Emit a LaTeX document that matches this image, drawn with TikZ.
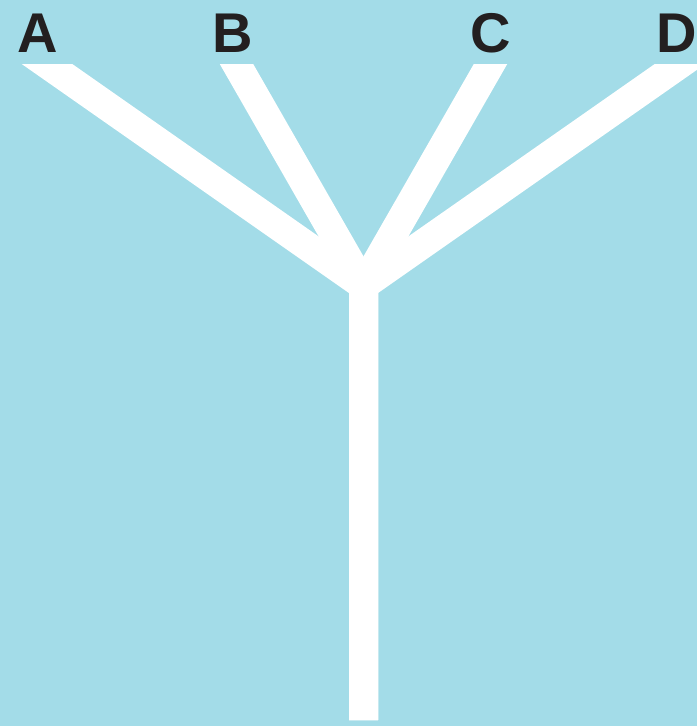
\documentclass[tikz,border=0pt]{standalone}
\usepackage{fontspec}
\setmainfont{Liberation Sans}
\definecolor{bgblue}{RGB}{163,220,232}
\definecolor{inkdark}{RGB}{35,31,32}
\tikzset{
  branch/.style={draw=white, line width=29pt, line join=miter, line cap=butt},
  leaflabel/.style={anchor=base, text=inkdark, font=\bfseries\fontsize{56}{56}\selectfont, inner sep=0pt}
}
\begin{document}
\begin{tikzpicture}[x=1pt,y=-1pt]
  \fill[bgblue] (0,0) rectangle (697,726);
  \useasboundingbox (0,0) rectangle (697,726);
  \coordinate (J) at (363.5,285.5);
  \coordinate (bottom) at (363.5,720);
  \coordinate (tA) at (18.4,44);
  \coordinate (tB) at (225,44);
  \coordinate (tC) at (502,44);
  \coordinate (tD) at (708.6,44);
  \begin{scope}
    \clip (0,64) rectangle (697,726);
    \draw[branch] (tA) -- (J) -- (bottom);
    \draw[branch] (tB) -- (J) -- (bottom);
    \draw[branch] (tC) -- (J) -- (bottom);
    \draw[branch] (tD) -- (J) -- (bottom);
  \end{scope}
  \node[leaflabel] (labA) at (38,52) {A};
  \node[leaflabel] (labB) at (233,52) {B};
  \node[leaflabel] (labC) at (491,52) {C};
  \node[leaflabel] (labD) at (677,52) {D};
\end{tikzpicture}
\end{document}
